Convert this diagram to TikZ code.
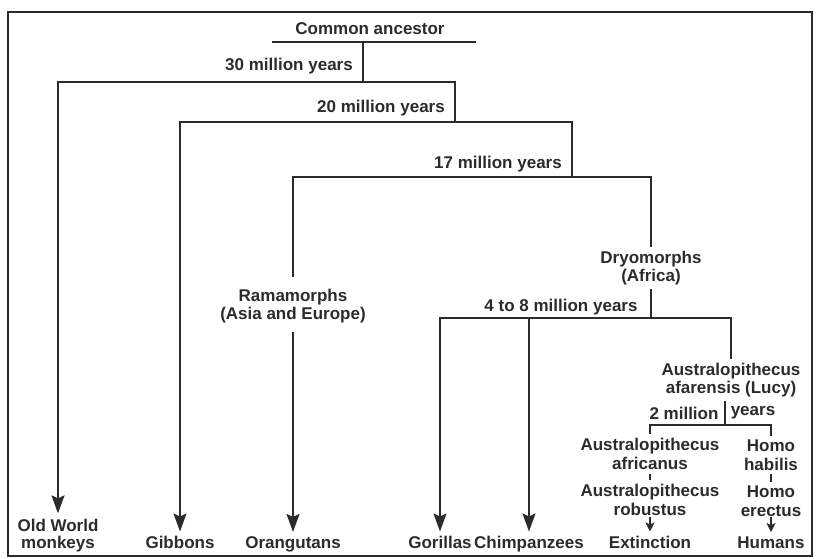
\documentclass[tikz,border=0pt]{standalone}
\usepackage{fontspec}
\setmainfont{Liberation Sans}
\usetikzlibrary{arrows.meta}

\definecolor{ink}{HTML}{2B2B2B}
\tikzstyle{line} = [draw=ink, line width=1.6pt]
\tikzstyle{longarrow} = [line, -{Stealth[length=18pt,width=13pt,inset=3pt]}]
\tikzstyle{shortarrow} = [line, shorten <=-3pt, -{Stealth[length=9pt,width=9pt,inset=2pt]}]
\tikzstyle{txt} = [text=ink, font=\bfseries\fontsize{17}{18.5}\selectfont, align=center, inner sep=4pt]
\tikzstyle{leaf} = [txt, anchor=base]

\begin{document}
\begin{tikzpicture}[x=1pt,y=-1pt]
		\useasboundingbox (0,0) rectangle (820,559);
		
		%frame
		\draw[draw=ink, line width=1.2pt] (8,12) rectangle (812,556);
		
		%labels
		\node[txt] (ancestor) at (370,29) {Common ancestor};
		\node[txt] (m30) at (289,66) {30 million years};
		\node[txt] (m20) at (381,108) {20 million years};
		\node[txt] (m17) at (498,164) {17 million years};
		\node[txt] (rama) at (293,306) {Ramamorphs\\(Asia and Europe)};
		\node[txt] (dryo) at (651,268) {Dryomorphs\\(Africa)};
		\node[txt] (m48) at (561,307) {4 to 8 million years};
		\node[txt] (lucy) at (731,380) {Australopithecus\\afarensis (Lucy)};
		\node[txt] (m2a) at (684,413) {2 million};
		\node[txt] (m2b) at (753,413) {years};
		\node[txt] (africanus) at (650,454) {Australopithecus\\africanus};
		\node[txt] (robustus) at (650,500) {Australopithecus\\robustus};
		\node[txt] (habilis) at (771,455) {Homo\\habilis};
		\node[txt] (erectus) at (771,501) {Homo\\erectus};
		
		%leaves
		\node[txt, font=\bfseries\fontsize{17}{17}\selectfont] (monkeys) at (58,536) {Old World\\monkeys};
		\node[leaf] (gibbons) at (180,548) {Gibbons};
		\node[leaf] (orang) at (293,548) {Orangutans};
		\node[leaf] (gorillas) at (440,548) {Gorillas};
		\node[leaf] (chimps) at (529,548) {Chimpanzees};
		\node[leaf] (extinct) at (650,548) {Extinction};
		\node[leaf] (humans) at (771,548) {Humans};
		
		%splits
		\coordinate (ancL) at (272,42);
		\coordinate (ancR) at (476,42);
		\coordinate (c0) at (363,42);
		\coordinate (c30) at (363,82);
		\coordinate (c20) at (455,122);
		\coordinate (c17) at (572,177);
		\coordinate (c48) at (651,318);
		\coordinate (c2) at (725,425);
		
		%tree
		\draw[line] (ancL) -- (ancR);
		\draw[line] (c0) -- (c30);
		\draw[longarrow, shorten >=2pt] (c30) -| (monkeys);
		\draw[line] (c30) -| (c20);
		\draw[longarrow] (c20) -| (gibbons);
		\draw[line] (c20) -| (c17);
		\draw[line, shorten >=8pt] (c17) -| (rama);
		\draw[longarrow, shorten <=5pt] (rama) -- (orang);
		\draw[line] (c17) -| (dryo);
		\draw[line] (dryo) -- (c48);
		\draw[longarrow] (c48) -| (gorillas);
		\draw[longarrow] (chimps |- c48) -- (chimps);
		\draw[line] (c48) -| (lucy);
		\draw[line] (lucy.south -| c2) -- (c2);
		\draw[line] (c2) -| (africanus);
		\draw[line] (c2) -| (habilis);
		\draw[line] (africanus) -- (robustus);
		\draw[line] (habilis) -- (erectus);
		\draw[shortarrow] (robustus) -- (extinct);
		\draw[shortarrow] (erectus) -- (humans);
\end{tikzpicture}
\end{document}
